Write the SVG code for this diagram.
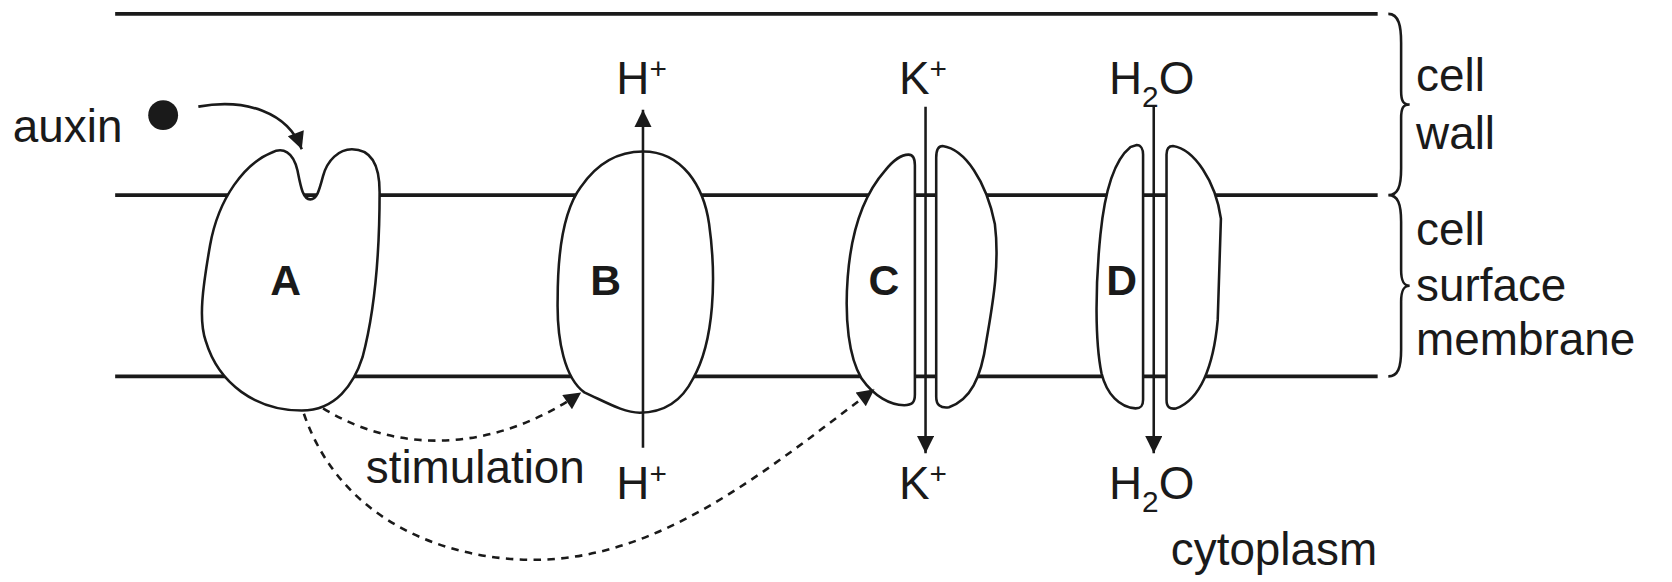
<svg xmlns="http://www.w3.org/2000/svg" width="1672" height="582" viewBox="0 0 1672 582">
<style>
.ln{stroke:#1a1a1a;stroke-width:3.5;fill:none}
.sh{stroke:#1a1a1a;stroke-width:2.4;fill:#fff}
.ar{stroke:#1a1a1a;stroke-width:2.4;fill:none}
.da{stroke:#1a1a1a;stroke-width:2.4;fill:none;stroke-dasharray:7 6}
text{font-family:"Liberation Sans",Arial,sans-serif;font-size:43px;fill:#1a1a1a}
.b{font-weight:bold;font-size:40px}
.sp{font-size:28px}
</style>
<defs>
<marker id="ahL" viewBox="0 0 10 10" refX="10" refY="5" markerWidth="28" markerHeight="16" markerUnits="userSpaceOnUse" orient="auto"><path d="M0,0 L10,5 L0,10 Z" fill="#1a1a1a"/></marker>
</defs>
<g transform="scale(1.0663)">
<g id="layers">
<line class="ln" x1="108" y1="13" x2="1292" y2="13"/>
<line class="ln" x1="108" y1="183" x2="1292" y2="183"/>
<line class="ln" x1="108" y1="353" x2="1292" y2="353"/>
<path class="ar" stroke-width="1.5" d="M1302 13 C1312 13 1314 25 1314 40 L1314 85 C1314 95 1316 98 1322 98 C1316 98 1314 101 1314 111 L1314 158 C1314 175 1311 183 1302 183 C1311 183 1314 191 1314 208 L1314 253 C1314 263 1316 268 1322 268 C1316 268 1314 273 1314 283 L1314 328 C1314 345 1311 353 1302 353"/>
<text x="1328" y="85">cell</text>
<text x="1328" y="140">wall</text>
<text x="1328" y="230">cell</text>
<text x="1328" y="282">surface</text>
<text x="1328" y="333">membrane</text>
</g>
<g id="auxin">
<text x="12" y="133">auxin</text>
<circle cx="153" cy="108" r="14" fill="#1a1a1a"/>
</g>
<g id="A">
<path class="sh" d="M291 187 C284 187 282 175 279 160 C275 142 265 138 255 143 C230 153 205 185 197 230 C190 270 186 300 193 320 C205 360 240 385 283 385 C315 385 332 360 340 335 C352 290 356 240 356 180 C356 155 348 140 330 140 C318 140 307 150 303 165 C299 180 297 187 291 187 Z"/>
<text class="b" x="268" y="277" text-anchor="middle">A</text>
</g>
<g id="B">
<path class="sh" d="M603 142 C640 142 660 175 665 210 C672 260 670 320 650 355 C640 375 625 387 600 387 C585 387 570 378 548 368 C530 355 522 320 523 280 C523 230 530 195 545 175 C560 153 580 142 603 142 Z"/>
<text class="b" x="568" y="277" text-anchor="middle">B</text>
</g>
<g id="C">
<path class="sh" d="M852 145 C857 145 858 150 858 155 L858 370 C858 378 855 380 848 380 C835 380 820 372 808 355 C796 335 792 300 795 260 C798 220 808 185 830 160 C838 150 845 145 852 145 Z"/>
<path class="sh" d="M884 137 C905 140 925 170 933 210 C938 250 930 290 925 320 C920 355 910 375 890 382 C882 383 878 380 878 372 L878 148 C878 140 880 137 884 137 Z"/>
<text class="b" x="829" y="277" text-anchor="middle">C</text>
</g>
<g id="D">
<path class="sh" d="M1066 136 C1070 136 1072 140 1072 145 L1072 375 C1072 381 1070 383 1065 383 C1050 382 1038 370 1033 350 C1027 320 1027 270 1032 220 C1036 180 1045 150 1060 138 Z"/>
<path class="sh" d="M1100 137 C1120 140 1140 170 1145 205 L1142 300 C1138 345 1125 375 1103 383 C1097 384 1094 382 1094 375 L1094 145 C1094 139 1096 137 1100 137 Z"/>
<text class="b" x="1052" y="277" text-anchor="middle">D</text>
</g>
<g id="labels">
<text x="578" y="88">H<tspan class="sp" dy="-14">+</tspan></text>
<text x="578" y="468">H<tspan class="sp" dy="-14">+</tspan></text>
<text x="843" y="88">K<tspan class="sp" dy="-14">+</tspan></text>
<text x="843" y="468">K<tspan class="sp" dy="-14">+</tspan></text>
<text x="1040" y="88">H<tspan class="sp" dy="12">2</tspan><tspan dy="-12">O</tspan></text>
<text x="1040" y="468">H<tspan class="sp" dy="12">2</tspan><tspan dy="-12">O</tspan></text>
<text x="343" y="453">stimulation</text>
<text x="1098" y="530">cytoplasm</text>
</g>
<g id="connectors">
<path class="ar" d="M186 100 C230 92 270 105 283 140" marker-end="url(#ahL)"/>
<line class="ar" x1="603" y1="420" x2="603" y2="103" marker-end="url(#ahL)"/>
<line class="ar" x1="868" y1="100" x2="868" y2="425" marker-end="url(#ahL)"/>
<line class="ar" x1="1082" y1="100" x2="1082" y2="425" marker-end="url(#ahL)"/>
<path class="da" d="M303 383 C380 430 470 420 545 368" marker-end="url(#ahL)"/>
<path class="da" d="M285 388 C320 490 420 525 500 525 C620 525 720 440 820 365" marker-end="url(#ahL)"/>
</g>
</g>
</svg>
